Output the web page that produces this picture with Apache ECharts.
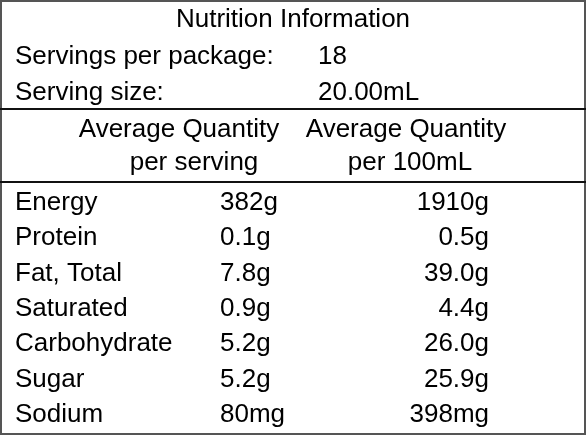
<!DOCTYPE html>
<html><head><meta charset="utf-8">
<script src="https://cdn.jsdelivr.net/npm/echarts@6/dist/echarts.min.js"></script>
<style>html,body{margin:0;padding:0;background:#fff}#main{width:586px;height:435px}</style>
</head><body><div id="main"></div>
<script>
var title = 'Nutrition Information';
var infoLabels = ['Servings per package:', 'Serving size:'];
var infoValues = ['18', '20.00mL'];
var headers1 = ['Average Quantity', 'per serving'];
var headers2 = ['Average Quantity', 'per 100mL'];
var nutrients = ['Energy', 'Protein', 'Fat, Total', 'Saturated', 'Carbohydrate', 'Sugar', 'Sodium'];
var perServing = ['382g', '0.1g', '7.8g', '0.9g', '5.2g', '5.2g', '80mg'];
var per100 = ['1910g', '0.5g', '39.0g', '4.4g', '26.0g', '25.9g', '398mg'];

var chart = echarts.init(document.getElementById('main'));
var font = '26px "Liberation Sans", sans-serif';
var els = [];

function txt(s, x, y, align) {
	els.push({type: 'text', x: x, y: y, style: {text: s, font: font, fill: '#000', align: align || 'left', verticalAlign: 'middle'}});
}
function hline(y) {
	els.push({type: 'line', shape: {x1: 0, y1: y, x2: 586, y2: y}, style: {stroke: '#111', lineWidth: 2}});
}

// 外框
els.push({type: 'rect', shape: {x: 1, y: 1, width: 584, height: 433}, style: {fill: 'none', stroke: '#555', lineWidth: 2}});
hline(109);
hline(182);

txt(title, 293, 20, 'center');
for (var i = 0; i < infoLabels.length; i++) {
	txt(infoLabels[i], 15, 57 + i * 36);
	txt(infoValues[i], 318, 57 + i * 36);
}
txt(headers1[0], 179, 130, 'center');
txt(headers1[1], 194, 163, 'center');
txt(headers2[0], 406, 130, 'center');
txt(headers2[1], 410, 163, 'center');

for (var j = 0; j < nutrients.length; j++) {
	var y = 203 + j * 35.3;
	txt(nutrients[j], 15, y);
	txt(perServing[j], 220, y);
	txt(per100[j], 489, y, 'right');
}

chart.setOption({animation: false, graphic: {elements: els}});
</script></body></html>
